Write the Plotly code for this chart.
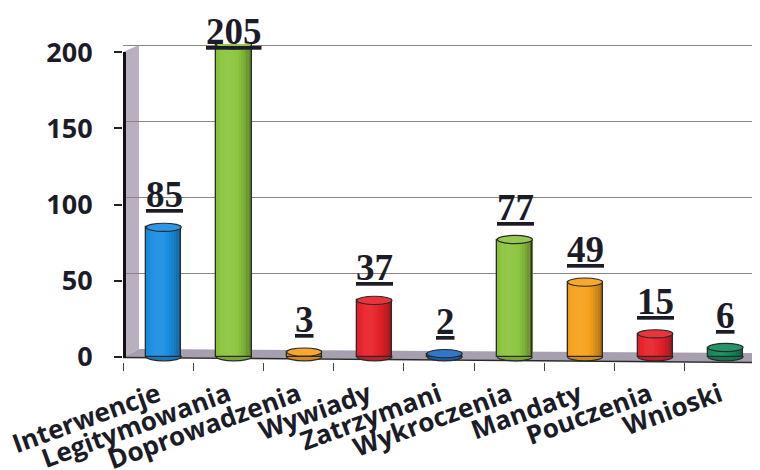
import numpy as np
import plotly.graph_objects as go

# ---------------- data ----------------
categories = ["Interwencje", "Legitymowania", "Doprowadzenia", "Wywiady", "Zatrzymani",
              "Wykroczenia", "Mandaty", "Pouczenia", "Wnioski"]
values = [85, 205, 3, 37, 2, 77, 49, 15, 6]
bar_colors = ["#1b8fe2", "#8dc63f", "#f6a21c", "#e8232b", "#1f6cc4",
              "#8dc63f", "#f6a21c", "#e8232b", "#148a5c"]
y_ticks = [0, 50, 100, 150, 200]
grid_ticks = [50, 100, 150, 200]

# ---------------- geometry / style ----------------
W, H = 760, 470
OFF = 8                    # page body margin of the browser
L, R, T, B = 115, 13, 36, 116
PW, PH = W - L - R, H - T - B
Y_RANGE = [-3.5, 205.5]
SCALE = PH / (Y_RANGE[1] - Y_RANGE[0])   # px per unit
GRID_SHIFT = 4.6          # back-wall gridlines sit a little higher than the front ticks
BAR_W = 0.5
BAR_OFF = -0.17           # bars sit slightly right of the category centre (3D depth)
N_STRIPS = 14
CAP_H = 2.7               # half height of cylinder caps in axis units
DARK = "#1c1c28"


def px(x):
    return (x - OFF - L) / PW


def py(y):
    return (H - B - (y - OFF)) / PH


def hex_rgb(h):
    h = h.lstrip("#")
    return np.array([int(h[i:i + 2], 16) for i in (0, 2, 4)], dtype=float)


def rgb_str(c):
    c = np.clip(c, 0, 255).astype(int)
    return f"rgb({c[0]},{c[1]},{c[2]})"


def shade(h, f):
    c = hex_rgb(h)
    if f <= 1:
        return rgb_str(c * f)
    return rgb_str(c + (255 - c) * (f - 1))


fig = go.Figure()

# cylinder bodies as vertical strips (gives a rounded shading)
sw = BAR_W / N_STRIPS
for k in range(N_STRIPS):
    u = (k + 0.5) / N_STRIPS * 2 - 1
    d = u + 0.3
    f = 1.06 - 0.24 * d * d
    fig.add_trace(go.Bar(
        x=categories, y=values, width=sw * 1.06, offset=BAR_OFF + k * sw,
        marker=dict(color=[shade(c, f) for c in bar_colors], line=dict(width=0)),
        showlegend=False, hoverinfo="skip"))

# outline of each cylinder
fig.add_trace(go.Bar(
    x=categories, y=values, width=BAR_W, offset=BAR_OFF,
    marker=dict(color="rgba(0,0,0,0)", line=dict(color="#2a2a2a", width=1.3)),
    showlegend=False, hovertemplate="%{x}: %{y}<extra></extra>"))

# invisible trace to carry the back-wall gridline axis
fig.add_trace(go.Scatter(x=[categories[0]], y=[None], yaxis="y2", mode="lines",
                         showlegend=False, hoverinfo="skip"))

shapes = []
# side wall
shapes.append(dict(type="path", xref="paper", yref="paper", layer="between",
                   path=f"M {px(123)},{py(52)} L {px(139)},{py(45)} L {px(139)},{py(349)} L {px(123)},{py(357)} Z",
                   fillcolor="#b9afbf", line=dict(width=0)))
# floor
shapes.append(dict(type="path", xref="paper", yref="paper", layer="between",
                   path=f"M {px(123)},{py(357)} L {px(139)},{py(349)} L {px(760)},{py(353)} L {px(752)},{py(362)} Z",
                   fillcolor="#a79fb0", line=dict(width=0)))
shapes.append(dict(type="line", xref="paper", yref="paper", layer="between",
                   x0=px(123), y0=py(357.5), x1=px(752), y1=py(362.5),
                   line=dict(color="#2a2a2a", width=1.5)))
# front edge of the value axis
shapes.append(dict(type="line", xref="paper", yref="paper", layer="above",
                   x0=px(124.5), y0=py(52), x1=px(124.5), y1=py(358),
                   line=dict(color="#111111", width=3)))

for i, (v, c) in enumerate(zip(values, bar_colors)):
    xc = i + BAR_OFF + BAR_W / 2
    # bottom cap (only lower half shows below the body)
    shapes.append(dict(type="circle", xref="x", yref="y", layer="between",
                       x0=xc - BAR_W / 2, x1=xc + BAR_W / 2, y0=-CAP_H, y1=CAP_H,
                       fillcolor=shade(c, 0.85), line=dict(color="#2a2a2a", width=1.2)))
    # top cap
    shapes.append(dict(type="circle", xref="x", yref="y", layer="above",
                       x0=xc - BAR_W / 2, x1=xc + BAR_W / 2, y0=v - CAP_H, y1=v + CAP_H,
                       fillcolor=shade(c, 1.08), line=dict(color="#2a2a2a", width=1.2)))

annotations = []
for cat, v in zip(categories, values):
    top_px = T + (Y_RANGE[1] - v) * SCALE          # pixel row of the bar end (figure coords)
    ysh = min(10, top_px - 46)                      # keep the tallest label inside the page
    annotations.append(dict(
        x=cat, y=v, xref="x", yref="y", text=f"<b><u>{v}</u></b>",
        showarrow=False, xanchor="center", yanchor="bottom", xshift=6, yshift=ysh,
        font=dict(family="Liberation Serif", size=37, color=DARK)))

fig.update_layout(
    width=W, height=H,
    margin=dict(l=L, r=R, t=T, b=B, autoexpand=False),
    paper_bgcolor="white", plot_bgcolor="white",
    barmode="overlay", bargap=0,
    shapes=shapes, annotations=annotations,
    xaxis=dict(type="category", range=[-0.5, len(categories) - 0.5], automargin=False,
               tickson="boundaries", ticks="outside", ticklen=8, tickwidth=1,
               tickcolor="#444444", tickangle=-20, ticklabelstandoff=12,
               tickfont=dict(family="Open Sans", size=26, color=DARK, weight="bold"),
               showgrid=False, showline=False, zeroline=False, fixedrange=True),
    yaxis=dict(range=Y_RANGE, tickvals=y_ticks, ticks="outside", ticklen=8, automargin=False,
               tickwidth=1.5, tickcolor="#222222", ticklabelstandoff=16,
               tickfont=dict(family="Open Sans", size=27, color=DARK, weight="bold"),
               showgrid=False, showline=False, zeroline=False, fixedrange=True),
    yaxis2=dict(overlaying="y", side="left", automargin=False,
                range=[Y_RANGE[0] - GRID_SHIFT, Y_RANGE[1] - GRID_SHIFT],
                tickvals=grid_ticks, showticklabels=False, ticks="",
                showgrid=True, gridcolor="#8e8282", gridwidth=1.2,
                showline=False, zeroline=False, fixedrange=True),
)

fig.write_html("out.html")
